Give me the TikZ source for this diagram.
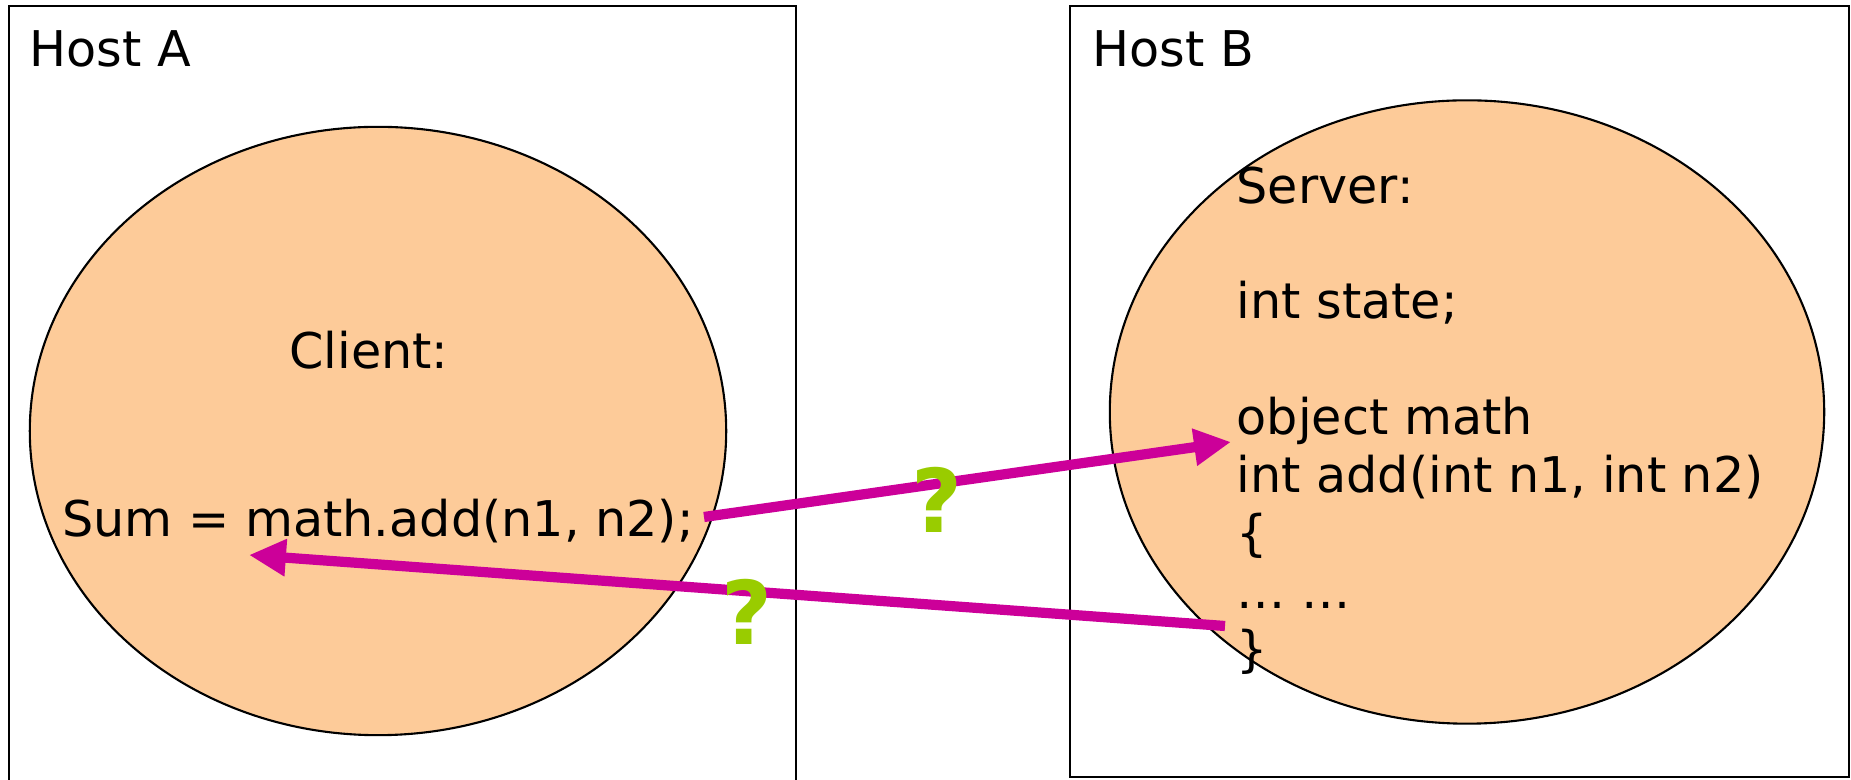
\documentclass[tikz,border=0pt]{standalone}
\usepackage{fontspec}
\setmainfont{DejaVu Sans}
\usetikzlibrary{arrows.meta,positioning,shapes.geometric}

\definecolor{peach}{RGB}{253,203,153}
\definecolor{callpink}{RGB}{204,0,153}
\definecolor{qgreen}{RGB}{153,204,0}

\tikzset{
  hostline/.style={draw=black,line width=0.6pt},
  procblob/.style={ellipse,draw=black,line width=0.6pt,fill=peach,inner sep=0pt},
  codetext/.style={font=\fontsize{14}{16.45}\selectfont,inner sep=0pt},
  callarrow/.style={line width=2.9pt,callpink,-{Triangle[length=10.5pt,width=10pt]}},
  qmark/.style={font=\fontsize{25}{25}\selectfont\bfseries,text=qgreen,inner sep=0pt}
}

\begin{document}
\begin{tikzpicture}[x=0.01cm,y=-0.01cm]
\useasboundingbox (0,0) rectangle (1851,780);
% Hosts
\draw[hostline] (9,780) -- (9,6) -- (796,6) -- (796,780);
\draw[hostline] (1070,6) rectangle (1849,777);
\node[codetext,anchor=base west] (hostA) at (29,67) {Host A};
\node[codetext,anchor=base west] (hostB) at (1092,67) {Host B};

% Processes
\node[procblob,minimum width=6.96cm,minimum height=6.08cm] (client) at (378,431) {};
\node[procblob,minimum width=7.14cm,minimum height=6.23cm] (server) at (1467,412) {};

% Code
\node[codetext,anchor=base] (clientlbl) at (369,369) {Client:};
\node[codetext,anchor=base] (sum) at (378,537) {Sum = math.add(n1, n2);};
\node[codetext,anchor=north west,align=left] (servercode) at (1236,166)
  {Server:\\ \\int state;\\ \\object math\\int add(int n1, int n2)\\\{\\… …\\\}};

% Calls
\coordinate (reqStart) at (704,517);
\coordinate (reqEnd) at (1231,442);
\coordinate (repStart) at (1225,626);
\coordinate (repEnd) at (249,555);
\draw[callarrow] (reqStart) -- (reqEnd);
\draw[callarrow] (repStart) -- (repEnd);
\node[qmark] (reqQ) at (937,500) {?};
\node[qmark] (repQ) at (747,612) {?};
\end{tikzpicture}
\end{document}
